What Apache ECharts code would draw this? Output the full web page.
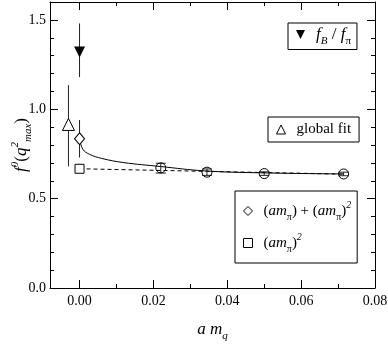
<!DOCTYPE html>
<html>
<head>
<meta charset="utf-8">
<script src="https://cdn.jsdelivr.net/npm/echarts@6/dist/echarts.min.js"></script>
<style>
  html, body { margin: 0; padding: 0; background: #fff; }
  #chart { width: 388px; height: 346px; }
</style>
</head>
<body>
<div id="chart"></div>
<script>
// values
var fbX = [0], fbY = [1.32], fbLo = [1.18], fbHi = [1.48];
var fitX = [-0.003], fitY = [0.915], fitLo = [0.68], fitHi = [1.135];
var diaX = [0], diaY = [0.835], diaLo = [0.73], diaHi = [0.94];
var sqX = [0], sqY = [0.667], sqLo = [0.655], sqHi = [0.68];
var circX = [0.022, 0.0345, 0.050, 0.0715];
var circY = [0.672, 0.648, 0.640, 0.638];
var circLo = [0.643, 0.630, 0.630, 0.628];
var circHi = [0.698, 0.666, 0.650, 0.648];
// fitted curves
var curveX = [0, 0.0009, 0.0027, 0.006, 0.0118, 0.0218, 0.034, 0.050, 0.0715];
var curveY = [0.835, 0.776, 0.748, 0.725, 0.702, 0.680, 0.655, 0.644, 0.638];
var dashX = [0, 0.0715];
var dashY = [0.667, 0.637];
// ticks
var xMajor = [0, 0.02, 0.04, 0.06, 0.08];
var xMinor = [0.01, 0.03, 0.05, 0.07];
var yMajor = [0, 0.5, 1.0, 1.5];
var yMinor = [0.1, 0.2, 0.3, 0.4, 0.6, 0.7, 0.8, 0.9, 1.1, 1.2, 1.3, 1.4, 1.6];

var FONT = 'Liberation Serif';
var downTri = 'path://M0,0 L10,0 L5,10 Z';

function zip(xs, ys) { return xs.map(function (x, i) { return [x, ys[i]]; }); }
function zipErr(xs, ys, lo, hi) { return xs.map(function (x, i) { return [x, ys[i], lo[i], hi[i]]; }); }

function errBar(cap) {
  return function (params, api) {
    var x = api.value(0);
    var a = api.coord([x, api.value(2)]);
    var b = api.coord([x, api.value(3)]);
    var st = { stroke: '#222', lineWidth: 1 };
    var kids = [{ type: 'line', shape: { x1: a[0], y1: a[1], x2: b[0], y2: b[1] }, style: st }];
    if (cap) {
      kids.push({ type: 'line', shape: { x1: a[0] - cap, y1: a[1], x2: a[0] + cap, y2: a[1] }, style: st });
      kids.push({ type: 'line', shape: { x1: b[0] - cap, y1: b[1], x2: b[0] + cap, y2: b[1] }, style: st });
    }
    return { type: 'group', children: kids };
  };
}

function makeRich(big, small) {
  return {
    i: { fontFamily: FONT, fontStyle: 'italic', fontSize: big, lineHeight: big + 7, verticalAlign: 'middle', color: '#000' },
    n: { fontFamily: FONT, fontSize: big, lineHeight: big + 7, verticalAlign: 'middle', color: '#000' },
    sub: { fontFamily: FONT, fontStyle: 'italic', fontSize: small, lineHeight: small, verticalAlign: 'bottom', color: '#000' },
    subn: { fontFamily: FONT, fontSize: small, lineHeight: small, verticalAlign: 'bottom', color: '#000' },
    sup: { fontFamily: FONT, fontStyle: 'italic', fontSize: small, lineHeight: small, verticalAlign: 'top', color: '#000' }
  };
}
var rich = makeRich(15, 10);
var richBig = makeRich(17, 11);

var legendNames = {
  'fb': '{i|f}{sub|B}{n| / }{i|f}{subn|π}',
  'fit': '{n|global fit}',
  'dia': '{n|(}{i|am}{subn|π}{n|) + (}{i|am}{subn|π}{n|)}{sup|2}',
  'sq': '{n|(}{i|am}{subn|π}{n|)}{sup|2}'
};

function xAx(pos, ticks, len, show) {
  return {
    type: 'value', position: pos, min: -0.008, max: 0.08,
    axisLine: { show: show, onZero: false, lineStyle: { color: '#000', width: 1 } },
    axisTick: { show: true, inside: true, length: len, customValues: ticks, lineStyle: { color: '#000' } },
    axisLabel: { show: false },
    splitLine: { show: false }
  };
}
function yAx(pos, ticks, len, show) {
  return {
    type: 'value', position: pos, min: 0, max: 1.6,
    axisLine: { show: show, onZero: false, lineStyle: { color: '#000', width: 1 } },
    axisTick: { show: true, inside: true, length: len, customValues: ticks, lineStyle: { color: '#000' } },
    axisLabel: { show: false },
    splitLine: { show: false }
  };
}

var xAxes = [xAx('bottom', xMajor, 8, true), xAx('bottom', xMinor, 4, false),
             xAx('top', xMajor, 8, true), xAx('top', xMinor, 4, false)];
xAxes[0].axisLabel = {
  show: true, customValues: xMajor, fontFamily: FONT, fontSize: 14, color: '#000', margin: 6,
  formatter: function (v) { return v.toFixed(2); }
};
xAxes[0].name = '{i|a m}{sub|q}';
xAxes[0].nameLocation = 'middle';
xAxes[0].nameGap = 30;
xAxes[0].nameMoveOverlap = false;
xAxes[0].nameTextStyle = { rich: richBig };

var yAxes = [yAx('left', yMajor, 8, true), yAx('left', yMinor, 4, false),
             yAx('right', yMajor, 8, true), yAx('right', yMinor, 4, false)];
yAxes[0].axisLabel = {
  show: true, customValues: yMajor, fontFamily: FONT, fontSize: 14, color: '#000', margin: 4,
  formatter: function (v) { return v.toFixed(1); }
};
yAxes[0].name = '{i|f}{sup|0}{n|(}{i|q}{sup|2}{sub|max}{n|)}';
yAxes[0].nameLocation = 'middle';
yAxes[0].nameRotate = 90;
yAxes[0].nameGap = 16;
yAxes[0].nameMoveOverlap = false;
yAxes[0].nameTextStyle = { rich: richBig };

function legendBox(names, left, top, r, extra) {
  var l = {
    data: names, left: left, top: top, orient: 'vertical',
    backgroundColor: '#fff', borderColor: '#000', borderWidth: 1, borderRadius: 0,
    padding: [5, 8, 5, 8], itemWidth: 9, itemHeight: 9, itemGap: 8,
    itemStyle: { borderWidth: 1 },
    formatter: function (n) { return legendNames[n]; },
    textStyle: { rich: r, padding: [0, 0, 0, 6] },
    selectedMode: false
  };
  for (var k in extra) l[k] = extra[k];
  return l;
}

var sym = { color: '#fff', borderColor: '#000', borderWidth: 1, opacity: 1 };

var chart = echarts.init(document.getElementById('chart'));
chart.setOption({
  animation: false,
  grid: { left: 50, right: 13, top: 2, bottom: 58, containLabel: false, outerBoundsMode: 'none' },
  xAxis: xAxes,
  yAxis: yAxes,
  legend: [
    legendBox(['fb'], 288, 23, richBig, { padding: [3, 6, 3, 8] }),
    legendBox(['fit'], 268, 117, rich, {}),
    legendBox(['dia', 'sq'], 235, 191, rich, { itemGap: 10, padding: [9, 6, 9, 8] })
  ],
  series: [
    { type: 'line', data: zip(curveX, curveY), smooth: 0.4, showSymbol: false, silent: true,
      lineStyle: { color: '#000', width: 1 }, z: 1 },
    { type: 'line', data: zip(dashX, dashY), showSymbol: false, silent: true,
      lineStyle: { color: '#000', width: 1, type: [4, 3] }, z: 1 },
    { type: 'custom', renderItem: errBar(0), data: zipErr(fbX, fbY, fbLo, fbHi), z: 2 },
    { type: 'custom', renderItem: errBar(0), data: zipErr(fitX, fitY, fitLo, fitHi), z: 2 },
    { type: 'custom', renderItem: errBar(0), data: zipErr(diaX, diaY, diaLo, diaHi), z: 2 },
    { type: 'custom', renderItem: errBar(4), data: zipErr(sqX, sqY, sqLo, sqHi), z: 2 },
    { type: 'custom', renderItem: errBar(5), data: zipErr(circX, circY, circLo, circHi), z: 2 },
    { name: 'fb', type: 'scatter', data: zip(fbX, fbY), symbol: downTri, symbolSize: [11, 11],
      itemStyle: { color: '#000', opacity: 1 }, z: 3 },
    { name: 'fit', type: 'scatter', data: zip(fitX, fitY), symbol: 'triangle', symbolSize: 12,
      itemStyle: sym, z: 3 },
    { name: 'dia', type: 'scatter', data: zip(diaX, diaY), symbol: 'diamond', symbolSize: [10, 12],
      itemStyle: sym, z: 3 },
    { name: 'sq', type: 'scatter', data: zip(sqX, sqY), symbol: 'rect', symbolSize: 9,
      itemStyle: sym, z: 3 },
    { type: 'scatter', data: zip(circX, circY), symbol: 'circle', symbolSize: 10,
      itemStyle: { color: 'rgba(255,255,255,0)', borderColor: '#000', borderWidth: 1, opacity: 1 }, z: 3 }
  ]
});
</script>
</body>
</html>
